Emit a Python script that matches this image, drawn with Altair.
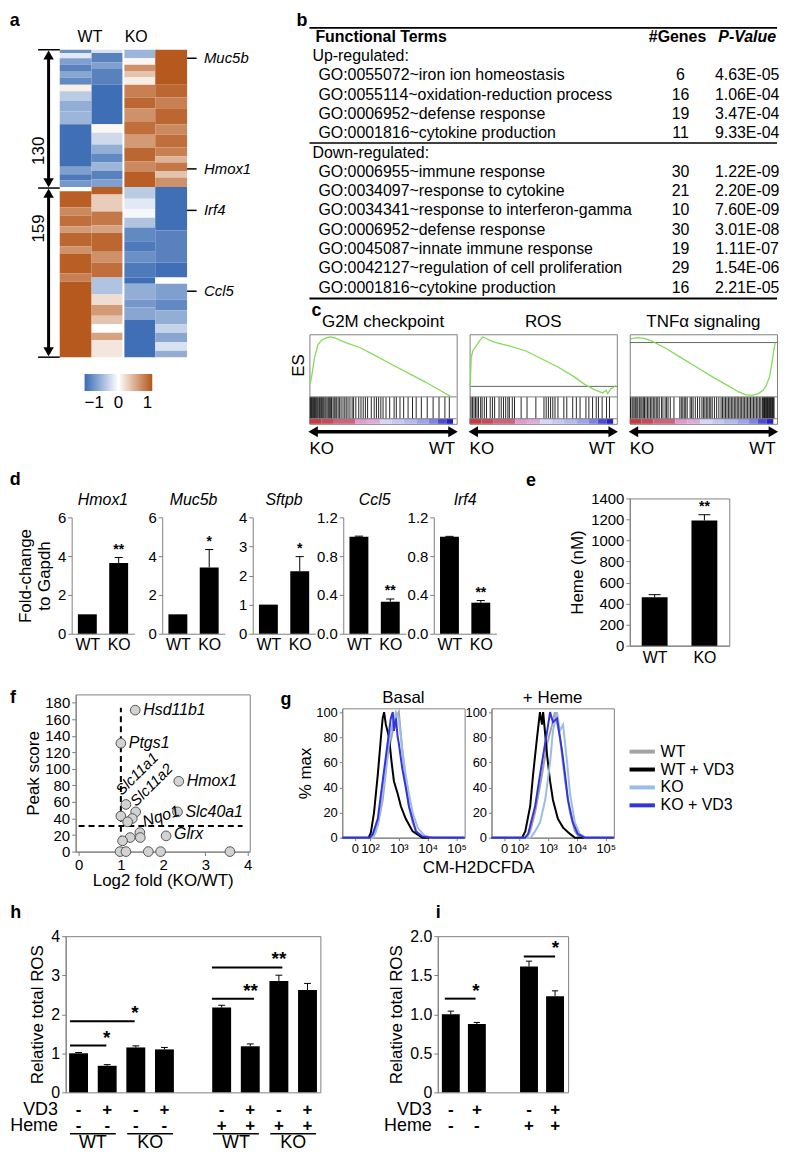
import altair as alt
import pandas as pd

FONT = "Liberation Sans"
GRAY = "#808080"
ONE = pd.DataFrame({"k": [0]})
LETTER_SIZE = 18


def sc(lo, hi, reverse=False):
    return alt.Scale(domain=[lo, hi], nice=False, zero=False, reverse=reverse, padding=0)


def txt(text, x, y, xs, ys, xa=None, ya=None, **kw):
    return alt.Chart(ONE).mark_text(text=text, **kw).encode(
        x=alt.X(datum=x, scale=xs, axis=xa), y=alt.Y(datum=y, scale=ys, axis=ya))


def seg(x1, x2, y1, y2, xs, ys, xa=None, ya=None, **kw):
    return alt.Chart(ONE).mark_rule(**kw).encode(
        x=alt.X(datum=x1, scale=xs, axis=xa), x2=alt.X2(datum=x2),
        y=alt.Y(datum=y1, scale=ys, axis=ya), y2=alt.Y2(datum=y2))


def pt(x, y, xs, ys, **kw):
    return alt.Chart(ONE).mark_point(filled=True, opacity=1, **kw).encode(
        x=alt.X(datum=x, scale=xs, axis=None), y=alt.Y(datum=y, scale=ys, axis=None))


def letter(t, dx, offset):
    return alt.TitleParams(t, anchor="start", frame="bounds", dx=dx, offset=offset,
                           fontSize=LETTER_SIZE, fontWeight="bold")

# ======================= a : heatmap =======================
HM_GROUP_SIZES = [130, 159]
HM_WT1 = [(0, 3, -0.75), (3, 8, -0.15), (8, 14, -0.65), (14, 20, -0.85), (20, 26, -0.6), (26, 33, -0.8),
          (33, 39, 0.1), (39, 48, -0.35), (48, 58, -0.55), (58, 70, -0.5), (70, 110, -0.97), (110, 117, -0.65),
          (117, 123, -0.9), (123, 129, -0.7), (129, 133, 0.0), (133, 148, 0.95), (148, 156, 0.7),
          (156, 166, 0.85), (166, 172, 0.6), (172, 185, 0.9), (185, 192, 0.65), (192, 210, 0.95),
          (210, 218, 0.75), (218, 289, 0.98)]
HM_WT2 = [(0, 3, -0.2), (3, 12, -0.85), (12, 18, -0.65), (18, 33, -0.85), (33, 70, -0.98), (70, 78, 0.05),
          (78, 89, -0.25), (89, 98, -0.55), (98, 106, -0.8), (106, 114, -0.5), (114, 122, -0.85),
          (122, 129, -0.65), (129, 136, 0.95), (136, 152, 0.3), (152, 165, 0.8), (165, 172, 0.55),
          (172, 190, 0.9), (190, 200, 0.65), (200, 214, 0.85), (214, 230, -0.4), (230, 240, 0.2),
          (240, 250, 0.6), (250, 258, 0.35), (258, 266, 0.0), (266, 273, 0.55), (273, 289, 0.15)]
HM_KO1 = [(0, 8, -0.5), (8, 14, 0.05), (14, 20, 0.65), (20, 26, 0.35), (26, 33, 0.1), (33, 45, 0.75),
          (45, 55, 0.9), (55, 68, 0.65), (68, 80, 0.85), (80, 92, 0.6), (92, 105, 0.9), (105, 115, 0.7),
          (115, 129, 0.95), (129, 140, -0.35), (140, 150, -0.15), (150, 158, -0.05), (158, 167, -0.4),
          (167, 180, -0.8), (180, 190, -0.9), (190, 200, -0.75), (200, 214, -0.9), (214, 220, -0.98),
          (220, 235, -0.55), (235, 242, -0.7), (242, 254, -0.6), (254, 289, -0.97)]
HM_KO2 = [(0, 33, 0.98), (33, 45, 0.9), (45, 55, 0.75), (55, 70, 0.9), (70, 80, 0.7), (80, 92, 0.85),
          (92, 100, 0.75), (100, 106, 0.45), (106, 114, 0.8), (114, 120, 0.35), (120, 129, 0.65),
          (129, 170, -0.97), (170, 200, -0.85), (200, 214, -0.97), (214, 220, 0.0), (220, 235, -0.65),
          (235, 245, -0.8), (245, 258, -0.55), (258, 266, -0.3), (266, 275, -0.6), (275, 283, -0.2),
          (283, 289, -0.55)]
HM_GENES = ["Muc5b", "Hmox1", "Irf4", "Ccl5"]
HM_GENE_ROWS = [8, 112, 151, 227]
HM_COLORS = ["#3a6bb3", "#ffffff", "#b5561a"]

hm_rows = []
for ci, segs in enumerate([HM_WT1, HM_WT2, HM_KO1, HM_KO2]):
    for r0, r1, v in segs:
        hm_rows.append({"c0": ci, "c1": ci + 1, "r0": r0, "r1": r1, "v": v})
hm_df = pd.DataFrame(hm_rows)
n_rows = sum(HM_GROUP_SIZES)
hx = sc(0, 4)
hy = sc(0, n_rows, True)
heat_cs = alt.Scale(domain=[-1, 0, 1], range=HM_COLORS, interpolate="rgb")
heat = alt.Chart(hm_df).mark_rect().encode(
    x=alt.X("c0:Q", scale=hx, axis=None), x2="c1:Q",
    y=alt.Y("r0:Q", scale=hy, axis=None), y2="r1:Q",
    color=alt.Color("v:Q", scale=heat_cs, title=None,
                    legend=alt.Legend(orient="none", legendX=25, legendY=326, direction="horizontal",
                                      type="gradient", gradientLength=68, gradientThickness=17,
                                      values=[-1, 0, 1], format="d", labelFontSize=17, labelOffset=4,
                                      gradientStrokeWidth=0)))
gdf = pd.DataFrame({"gene": HM_GENES, "row": HM_GENE_ROWS})
gtick = alt.Chart(gdf).mark_rule(color="black", strokeWidth=1.5).encode(
    x=alt.X(datum=4.0, scale=hx, axis=None), x2=alt.X2(datum=4.3), y=alt.Y("row:Q", scale=hy, axis=None))
glab = alt.Chart(gdf).mark_text(align="left", baseline="middle", fontStyle="italic", fontSize=15).encode(
    x=alt.X(datum=4.53, scale=hx, axis=None), y=alt.Y("row:Q", scale=hy, axis=None), text="gene:N")
bnd = [0, HM_GROUP_SIZES[0], n_rows]
brk = alt.Chart(pd.DataFrame({"b": bnd})).mark_rule(color="black", strokeWidth=1.5).encode(
    x=alt.X(datum=-0.68, scale=hx, axis=None), x2=alt.X2(datum=0), y=alt.Y("b:Q", scale=hy, axis=None))
a_layers = [heat, seg(2, 2, 0, n_rows, hx, hy, color="white", strokeWidth=2), gtick, glab, brk]
for lo, hi in [(bnd[0], bnd[1]), (bnd[1], bnd[2])]:
    a_layers.append(seg(-0.35, -0.35, lo + 3, hi - 3, hx, hy, color="black", strokeWidth=3))
    a_layers.append(pt(-0.35, lo + 5, hx, hy, shape="triangle-up", size=110, color="black"))
    a_layers.append(pt(-0.35, hi - 5, hx, hy, shape="triangle-down", size=110, color="black"))
a_layers.append(txt(str(HM_GROUP_SIZES[0]), -0.66, 95, hx, hy, angle=270, fontSize=17))
a_layers.append(txt(str(HM_GROUP_SIZES[1]), -0.66, 168, hx, hy, angle=270, fontSize=17))
a_layers.append(txt("WT", 0.95, -12, hx, hy, fontSize=16))
a_layers.append(txt("KO", 2.4, -12, hx, hy, fontSize=16))
A = alt.layer(*a_layers).properties(width=128, height=309, title=letter("a", -20, -1))

# ======================= b : table =======================
UP_TERMS = ["GO:0055072~iron ion homeostasis", "GO:0055114~oxidation-reduction process",
            "GO:0006952~defense response", "GO:0001816~cytokine production"]
UP_GENES = [6, 16, 19, 11]
UP_P = ["4.63E-05", "1.06E-04", "3.47E-04", "9.33E-04"]
DOWN_TERMS = ["GO:0006955~immune response", "GO:0034097~response to cytokine",
              "GO:0034341~response to interferon-gamma", "GO:0006952~defense response",
              "GO:0045087~innate immune response", "GO:0042127~regulation of cell proliferation",
              "GO:0001816~cytokine production"]
DOWN_GENES = [30, 21, 10, 30, 19, 29, 16]
DOWN_P = ["1.22E-09", "2.20E-09", "7.60E-09", "3.01E-08", "1.11E-07", "1.54E-06", "2.21E-05"]

n_up = len(UP_TERMS)
tab_rows = list(range(2, 2 + n_up)) + list(range(3 + n_up, 3 + n_up + len(DOWN_TERMS)))
tab_df = pd.DataFrame({"row": tab_rows, "term": UP_TERMS + DOWN_TERMS,
                       "genes": [str(g) for g in UP_GENES + DOWN_GENES], "p": UP_P + DOWN_P})
last = tab_rows[-1]
bx = sc(0, 470)
by = sc(-0.46, last + 0.56, True)
tb = alt.Chart(tab_df)
B = alt.layer(
    seg(0, 470, -0.46, -0.46, bx, by, color="black", strokeWidth=2),
    seg(0, 470, 1.5 + n_up, 1.5 + n_up, bx, by, color="black", strokeWidth=1.5),
    seg(0, 470, last + 0.56, last + 0.56, bx, by, color="black", strokeWidth=2),
    txt("Functional Terms", 6, 0, bx, by, align="left", fontSize=16, fontWeight="bold"),
    txt("#Genes", 370, 0, bx, by, fontSize=16, fontWeight="bold"),
    txt("P-Value", 440, 0, bx, by, fontSize=16, fontWeight="bold", fontStyle="italic"),
    txt("Up-regulated:", 3, 1, bx, by, align="left", fontSize=16),
    txt("Down-regulated:", 3, 2 + n_up, bx, by, align="left", fontSize=16),
    tb.mark_text(align="left", fontSize=16).encode(
        x=alt.X(datum=9, scale=bx, axis=None), y=alt.Y("row:Q", scale=by, axis=None), text="term:N"),
    tb.mark_text(fontSize=16).encode(
        x=alt.X(datum=373, scale=bx, axis=None), y=alt.Y("row:Q", scale=by, axis=None), text="genes:N"),
    tb.mark_text(fontSize=16).encode(
        x=alt.X(datum=440, scale=bx, axis=None), y=alt.Y("row:Q", scale=by, axis=None), text="p:N"),
).properties(width=470, height=272, title=letter("b", -12, -3))

# ======================= c : GSEA =======================
STRIP_EDGES = [0, 0.08, 0.16, 0.31, 0.39, 0.48, 0.56, 0.64, 0.73, 0.81, 0.87, 0.93, 0.975]
STRIP_VALS = [1.0, 0.9, 0.75, 0.4, 0.3, 0.0, -0.1, -0.2, -0.35, -0.55, -0.8, -1.0]
strip_cs = alt.Scale(domain=[-1, -0.5, 0, 0.35, 1],
                     range=["#2222c8", "#8a8ae8", "#d6d6f6", "#dfa4d4", "#c23a44"], interpolate="rgb")

G2M_X = [0.005, 0.016, 0.035, 0.059, 0.082, 0.118, 0.141, 0.176, 0.247, 0.341, 0.435, 0.553, 0.671, 0.788,
         0.906, 0.953, 0.969]
G2M_Y = [0.2, 0.34, 0.63, 0.84, 0.905, 0.947, 0.958, 0.937, 0.868, 0.789, 0.674, 0.526, 0.379, 0.237,
         0.079, 0.016, 0.0]
G2M_HITS = [0.005, 0.01, 0.015, 0.02, 0.028, 0.035, 0.04, 0.046, 0.052, 0.058, 0.065, 0.07, 0.077, 0.083,
            0.09, 0.097, 0.105, 0.112, 0.12, 0.128, 0.135, 0.142, 0.15, 0.16, 0.168, 0.175, 0.185, 0.195,
            0.205, 0.215, 0.228, 0.24, 0.25, 0.262, 0.275, 0.29, 0.3, 0.315, 0.335, 0.35, 0.365, 0.38,
            0.395, 0.42, 0.44, 0.455, 0.47, 0.485, 0.5, 0.52, 0.545, 0.575, 0.59, 0.615, 0.64, 0.67, 0.7,
            0.725, 0.76, 0.8, 0.84, 0.88, 0.92, 0.95]
ROS_X = [0.004, 0.011, 0.022, 0.045, 0.067, 0.089, 0.112, 0.134, 0.179, 0.268, 0.379, 0.491, 0.603, 0.714,
         0.781, 0.848, 0.904, 0.926, 0.938, 0.96, 0.982, 0.993]
ROS_Y = [0.158, 0.632, 0.737, 0.816, 0.895, 0.958, 0.937, 0.905, 0.868, 0.816, 0.737, 0.605, 0.474, 0.316,
         0.2, 0.116, 0.063, 0.105, 0.053, 0.132, 0.158, 0.184]
ROS_HITS = [0.01, 0.02, 0.03, 0.04, 0.05, 0.06, 0.075, 0.085, 0.1, 0.115, 0.14, 0.155, 0.17, 0.2, 0.215,
            0.23, 0.245, 0.26, 0.27, 0.29, 0.305, 0.35, 0.39, 0.45, 0.505, 0.52, 0.535, 0.55, 0.565, 0.58,
            0.6, 0.64, 0.66, 0.7, 0.725, 0.75, 0.79, 0.81, 0.835, 0.86, 0.875, 0.9, 0.93, 0.95]
TNF_X = [0.004, 0.026, 0.059, 0.103, 0.147, 0.235, 0.345, 0.455, 0.565, 0.675, 0.741, 0.785, 0.829, 0.873,
         0.906, 0.927, 0.949, 0.965, 0.978, 0.987]
TNF_Y = [0.921, 0.937, 0.947, 0.932, 0.895, 0.789, 0.632, 0.474, 0.316, 0.168, 0.079, 0.037, 0.026, 0.053,
         0.105, 0.184, 0.316, 0.526, 0.737, 0.868]
TNF_HITS = [0.005, 0.015, 0.022, 0.03, 0.04, 0.048, 0.055, 0.065, 0.075, 0.083, 0.092, 0.1, 0.11, 0.12,
            0.13, 0.14, 0.15, 0.16, 0.17, 0.18, 0.19, 0.2, 0.215, 0.225, 0.24, 0.25, 0.26, 0.275, 0.3,
            0.34, 0.35, 0.36, 0.37, 0.38, 0.39, 0.41, 0.42, 0.43, 0.445, 0.46, 0.475, 0.49, 0.5, 0.51,
            0.52, 0.53, 0.54, 0.55, 0.56, 0.575, 0.59, 0.605, 0.62, 0.63, 0.64, 0.65, 0.66, 0.67, 0.68,
            0.69, 0.7, 0.71, 0.72, 0.73, 0.74, 0.75, 0.76, 0.77, 0.78, 0.79, 0.8, 0.81, 0.82, 0.83, 0.84,
            0.85, 0.86, 0.87, 0.88, 0.89, 0.9, 0.905, 0.91, 0.915, 0.92, 0.925, 0.93, 0.935, 0.94, 0.945,
            0.95, 0.955, 0.96, 0.965, 0.97, 0.975, 0.98]


def c_panel(title, es_x, es_y, hits, zero=None, es_label=False):
    xs = sc(0, 1)
    ys = sc(-0.43, 1.0)
    sdf = pd.DataFrame({"s0": STRIP_EDGES[:-1], "s1": STRIP_EDGES[1:], "m": STRIP_VALS})
    layers = [
        alt.Chart(sdf).mark_rect().encode(
            x=alt.X("s0:Q", scale=xs, axis=None), x2="s1:Q",
            y=alt.Y(datum=-0.43, scale=ys, axis=None), y2=alt.Y2(datum=-0.349),
            color=alt.Color("m:Q", scale=strip_cs, legend=None)),
        alt.Chart(pd.DataFrame({"h": hits})).mark_rule(color="black", strokeWidth=1, opacity=0.85).encode(
            x=alt.X("h:Q", scale=xs, axis=None),
            y=alt.Y(datum=-0.349, scale=ys, axis=None), y2=alt.Y2(datum=0)),
        seg(0, 1, 0, 0, xs, ys, color=GRAY, strokeWidth=1),
        seg(0, 1, -0.349, -0.349, xs, ys, color=GRAY, strokeWidth=1),
    ]
    if zero is not None:
        layers.append(seg(0, 1, zero, zero, xs, ys, color="#666666", strokeWidth=1))
    layers += [
        alt.Chart(pd.DataFrame({"x": es_x, "y": es_y})).mark_line(color="#84dc58", strokeWidth=1.3).encode(
            x=alt.X("x:Q", scale=xs, axis=None), y=alt.Y("y:Q", scale=ys, axis=None)),
        seg(0.04, 0.96, -0.556, -0.556, xs, ys, color="black", strokeWidth=3.5),
        pt(0.025, -0.556, xs, ys, shape="triangle-left", size=120, color="black"),
        pt(0.975, -0.556, xs, ys, shape="triangle-right", size=120, color="black"),
        txt("KO", 0.0, -0.83, xs, ys, align="left", fontSize=17),
        txt("WT", 0.99, -0.83, xs, ys, align="right", fontSize=17),
    ]
    if es_label:
        layers.append(txt("ES", -0.07, 0.5, xs, ys, angle=270, fontSize=17))
    return alt.layer(*layers).properties(
        width=148, height=90, view=alt.ViewBackground(stroke=GRAY, strokeWidth=1),
        title=alt.TitleParams(title, fontSize=17, fontWeight="normal", offset=3))


Crow = alt.hconcat(
    c_panel("G2M checkpoint", G2M_X, G2M_Y, G2M_HITS, es_label=True),
    c_panel("ROS", ROS_X, ROS_Y, ROS_HITS, zero=0.168),
    c_panel("TNF\u03b1 signaling", TNF_X, TNF_Y, TNF_HITS, zero=0.868),
    spacing=13, bounds="flush", title=letter("c", 22, -7)).resolve_scale(color="independent")

# ======================= bar helpers =======================
WTKO = "datum.value == 0 ? 'WT' : 'KO'"


def bar_layers(pos, vals, errs, xs, ys, xaxis, yaxis, bar_w, cap):
    df = pd.DataFrame({"pos": pos, "val": vals, "err": errs})
    base = alt.Chart(df)
    eb = base.transform_filter("datum.err > 0").transform_calculate(top="datum.val + datum.err")
    return [
        base.mark_bar(width=bar_w, color="black").encode(
            x=alt.X("pos:Q", scale=xs, axis=xaxis), y=alt.Y("val:Q", scale=ys, axis=yaxis)),
        eb.mark_rule(color="black", strokeWidth=1).encode(
            x=alt.X("pos:Q", scale=xs, axis=xaxis), y=alt.Y("val:Q", scale=ys, axis=yaxis), y2="top:Q"),
        eb.transform_calculate(lo=f"datum.pos - {cap}", hi=f"datum.pos + {cap}").mark_rule(
            color="black", strokeWidth=1).encode(
            x=alt.X("lo:Q", scale=xs, axis=xaxis), x2="hi:Q", y=alt.Y("top:Q", scale=ys, axis=yaxis)),
    ]


def star_layer(pos, tops, stars, xs, ys, xaxis, yaxis, size=14):
    return alt.Chart(pd.DataFrame({"pos": pos, "top": tops, "s": stars})).mark_text(
        baseline="bottom", dy=-1, fontSize=size, fontWeight="bold").encode(
        x=alt.X("pos:Q", scale=xs, axis=xaxis), y=alt.Y("top:Q", scale=ys, axis=yaxis), text="s:N")

# ======================= d =======================
D_GENES = ["Hmox1", "Muc5b", "Sftpb", "Ccl5", "Irf4"]
D_WT = [1.0, 1.0, 1.0, 1.0, 1.0]
D_WT_ERR = [0.0, 0.0, 0.0, 0.006, 0.004]
D_KO = [3.65, 3.42, 2.15, 0.33, 0.32]
D_KO_ERR = [0.28, 0.92, 0.5, 0.028, 0.022]
D_STARS = ["**", "*", "*", "**", "**"]
D_YMAX = [6, 6, 4, 1.2, 1.2]
D_TICKS = [[0, 2, 4, 6], [0, 2, 4, 6], [0, 1, 2, 3, 4], [0, 0.4, 0.8, 1.2], [0, 0.4, 0.8, 1.2]]

d_charts = []
for i, g in enumerate(D_GENES):
    xs = sc(-0.5, 1.5)
    ys = sc(0, D_YMAX[i])
    xaxis = alt.Axis(values=[0, 1], labelExpr=WTKO, ticks=False, grid=False, labelFontSize=16,
                     labelFlush=False, labelPadding=3, title=None, domainColor=GRAY)
    yargs = dict(values=D_TICKS[i], grid=False, labelFontSize=15, tickSize=4, labelPadding=2,
                 domainColor=GRAY, tickColor=GRAY, labelOverlap=False, labelFlush=False)
    if i == 0:
        yaxis = alt.Axis(title=["Fold-change", "to Gapdh"], titleFontSize=17, titlePadding=4, **yargs)
    else:
        yaxis = alt.Axis(title=None, **yargs)
    lay = bar_layers([0, 1], [D_WT[i], D_KO[i]], [D_WT_ERR[i], D_KO_ERR[i]], xs, ys, xaxis, yaxis, 19, 0.13)
    lay.append(star_layer([1], [D_KO[i] + D_KO_ERR[i]], [D_STARS[i]], xs, ys, xaxis, yaxis))
    d_charts.append(alt.layer(*lay).properties(
        width=63, height=117,
        title=alt.TitleParams(g, fontStyle="italic", fontWeight="normal", fontSize=16, offset=2)))
Dgroup = alt.hconcat(*d_charts, spacing=28, bounds="flush", title=letter("d", -7, 4))

# ======================= e =======================
E_VALS = [460, 1190]
E_ERRS = [25, 55]
exs = sc(-0.5, 1.5)
eys = sc(0, 1400)
exa = alt.Axis(values=[0, 1], labelExpr=WTKO, ticks=False, grid=False, labelFontSize=16,
               labelFlush=False, labelPadding=4, title=None, domainColor=GRAY)
eya = alt.Axis(values=[0, 200, 400, 600, 800, 1000, 1200, 1400], format="d", grid=False,
               labelFontSize=15, tickSize=4, labelFlush=False, labelOverlap=False,
               title="Heme (nM)", titleFontSize=17, domainColor=GRAY, tickColor=GRAY)
e_lay = bar_layers([0, 1], E_VALS, E_ERRS, exs, eys, exa, eya, 26, 0.12)
e_lay.append(star_layer([1], [E_VALS[1] + E_ERRS[1]], ["**"], exs, eys, exa, eya))
E = alt.layer(*e_lay).properties(width=100, height=148, view=alt.ViewBackground(stroke=GRAY, strokeWidth=1),
                                 title=letter("e", -43, 2))

# ======================= f =======================
F_X = [1.34, 1.00, 2.37, 2.34, 2.07, 1.12, 1.35, 1.27, 1.00, 1.16, 1.45, 1.46, 1.22, 1.04, 0.98, 1.12,
       1.65, 1.94, 3.58]
F_Y = [171, 131, 85, 48, 19, 57, 48, 40, 43, 36, 23, 17, 17, 13, 0, 0, 0, 0, 0]
F_GENE = ["Hsd11b1", "Ptgs1", "Hmox1", "Slc40a1", "Glrx", "Slc11a1", "Slc11a2", "Nqo1", "", "", "", "", "",
          "", "", "", "", "", ""]
F_FOLD_CUT = 1
F_SCORE_CUT = 31
fdf = pd.DataFrame({"x": F_X, "y": F_Y, "gene": F_GENE})
fxs = sc(-0.07, 4.05)
fys = sc(0, 190)
fxa = alt.Axis(values=[0, 1, 2, 3, 4], grid=False, labelFontSize=15, labelFlush=False, tickSize=4,
               title="Log2 fold (KO/WT)", titleFontSize=17, titlePadding=0, domainColor=GRAY, tickColor=GRAY)
fya = alt.Axis(values=list(range(0, 181, 20)), grid=False, labelFontSize=15, labelOverlap=False,
               labelFlush=False, tickSize=4, title="Peak score", titleFontSize=17, titlePadding=2,
               domainColor=GRAY, tickColor=GRAY)
fb = alt.Chart(fdf)
fxe = alt.X("x:Q", scale=fxs, axis=fxa)
fye = alt.Y("y:Q", scale=fys, axis=fya)


def f_lab(genes, size=16, **kw):
    return fb.transform_filter(alt.FieldOneOfPredicate(field="gene", oneOf=genes)).mark_text(
        fontStyle="italic", fontSize=size, **kw).encode(x=fxe, y=fye, text="gene:N")


F = alt.layer(
    seg(F_FOLD_CUT, F_FOLD_CUT, 12, 174, fxs, fys, fxa, fya, color="black", strokeWidth=2, strokeDash=[6, 4]),
    seg(0, 3.88, F_SCORE_CUT, F_SCORE_CUT, fxs, fys, fxa, fya, color="black", strokeWidth=2, strokeDash=[6, 4]),
    fb.mark_circle(size=95, color="#d2d2d2", stroke="#555555", strokeWidth=1, opacity=1).encode(x=fxe, y=fye),
    f_lab(["Hsd11b1", "Ptgs1", "Hmox1", "Slc40a1"], align="left", dx=8),
    f_lab(["Glrx"], align="left", dx=8, dy=-2),
    f_lab(["Slc11a1"], size=15, align="left", baseline="bottom", angle=315, dx=3, dy=-6),
    f_lab(["Slc11a2"], size=15, align="left", baseline="bottom", angle=315, dx=4, dy=0),
    f_lab(["Nqo1"], align="left", baseline="middle", angle=342, dx=9, dy=7),
).properties(width=175, height=158, view=alt.ViewBackground(stroke=GRAY, strokeWidth=1),
             title=letter("f", -15, -13))

# ======================= g =======================
G_SERIES = ["WT", "WT + VD3", "KO", "KO + VD3"]
G_COLORS = ["#a3a3a3", "#000000", "#9cbbe8", "#3434dc"]
G_BASAL = {
    "WT": [(1.04, 0), (2.1, 0), (2.27, 10), (2.44, 30), (2.61, 65), (2.79, 85), (2.9, 95), (3.0, 100),
           (3.12, 70), (3.24, 45), (3.35, 25), (3.48, 12), (3.65, 3), (3.82, 0), (5.28, 0)],
    "WT + VD3": [(1.04, 0), (1.95, 0), (2.03, 4), (2.14, 20), (2.27, 50), (2.38, 80), (2.44, 95), (2.49, 100),
                 (2.55, 90), (2.66, 80), (2.75, 60), (2.83, 45), (2.96, 35), (3.07, 25), (3.24, 15), (3.48, 5),
                 (3.82, 0), (5.28, 0)],
    "KO": [(1.04, 0), (2.1, 0), (2.21, 5), (2.38, 25), (2.55, 55), (2.72, 85), (2.9, 100), (3.0, 95),
           (3.12, 70), (3.24, 50), (3.35, 35), (3.48, 20), (3.65, 8), (3.87, 2), (4.1, 0), (5.28, 0)],
    "KO + VD3": [(1.04, 0), (2.0, 0), (2.1, 3), (2.27, 15), (2.44, 45), (2.61, 75), (2.72, 95), (2.79, 100),
                 (2.83, 85), (2.9, 95), (2.96, 80), (3.0, 75), (3.12, 55), (3.24, 40), (3.35, 25), (3.47, 15),
                 (3.59, 5), (3.82, 1), (4.17, 0), (5.28, 0)],
}
G_HEME = {
    "WT": [(1.04, 0), (2.25, 0), (2.38, 5), (2.55, 20), (2.79, 50), (2.97, 75), (3.14, 90), (3.24, 100),
           (3.41, 80), (3.59, 45), (3.76, 20), (3.93, 5), (4.1, 0), (5.28, 0)],
    "WT + VD3": [(1.04, 0), (2.1, 0), (2.21, 5), (2.38, 25), (2.48, 50), (2.62, 80), (2.72, 100), (2.79, 90),
                 (2.83, 100), (2.97, 65), (3.07, 45), (3.17, 30), (3.34, 15), (3.52, 8), (3.76, 3),
                 (3.93, 0), (5.28, 0)],
    "KO": [(1.04, 0), (2.4, 0), (2.55, 5), (2.72, 12), (2.9, 30), (3.07, 60), (3.17, 85), (3.31, 100),
           (3.41, 85), (3.52, 90), (3.66, 60), (3.76, 35), (3.93, 12), (4.1, 3), (4.28, 0), (5.28, 0)],
    "KO + VD3": [(1.04, 0), (2.2, 0), (2.31, 3), (2.55, 25), (2.79, 60), (2.97, 85), (3.07, 100), (3.17, 92),
                 (3.31, 95), (3.48, 70), (3.59, 50), (3.69, 30), (3.86, 12), (4.03, 3), (4.28, 0), (5.28, 0)],
}
G_TICKS = [1.48, 2, 3, 4, 5]
G_TICK_EXPR = ("datum.value < 1.9 ? '0' : datum.value < 2.5 ? '10\u00b2' : datum.value < 3.5 ? '10\u00b3' "
               ": datum.value < 4.5 ? '10\u2074' : '10\u2075'")


def g_panel(name, series, first):
    rows = []
    for s in G_SERIES:
        for i, (lx, y) in enumerate(series[s]):
            rows.append({"s": s, "lx": lx, "y": y, "o": i})
    gdf_ = pd.DataFrame(rows)
    xargs = dict(values=G_TICKS, labelExpr=G_TICK_EXPR, grid=False, labelFontSize=13, labelOverlap=False,
                 labelFlush=False, tickSize=3, domainColor=GRAY, tickColor=GRAY)
    yargs = dict(values=[0, 20, 40, 60, 80, 100], grid=False, labelFontSize=13, tickSize=3,
                 labelFlush=False, domainColor=GRAY, tickColor=GRAY)
    if first:
        xaxis = alt.Axis(title=None, **xargs)
        yaxis = alt.Axis(title="% max", titleFontSize=17, titlePadding=1, **yargs)
        leg = None
    else:
        xaxis = alt.Axis(title="CM-H2DCFDA", titleX=-13.5, titleAlign="center", titleFontSize=17,
                         titlePadding=4, **xargs)
        yaxis = alt.Axis(title=None, **yargs)
        leg = alt.Legend(orient="none", legendX=142, legendY=34, symbolType="M-1.7,0H1.7", symbolStrokeWidth=4,
                         symbolSize=225, labelFontSize=16, rowPadding=-3, title=None, labelOffset=9)
    return alt.Chart(gdf_).mark_line(strokeWidth=2).encode(
        x=alt.X("lx:Q", scale=sc(1.04, 5.28), axis=xaxis),
        y=alt.Y("y:Q", scale=sc(0, 103), axis=yaxis),
        color=alt.Color("s:N", scale=alt.Scale(domain=G_SERIES, range=G_COLORS), legend=leg, sort=G_SERIES),
        order="o:Q",
    ).properties(width=123, height=130, view=alt.ViewBackground(stroke=GRAY, strokeWidth=1),
                 title=alt.TitleParams(name, fontSize=17, fontWeight="normal", offset=-1))


Ggroup = alt.hconcat(g_panel("Basal", G_BASAL, True), g_panel("+ Heme", G_HEME, False),
                     spacing=27, bounds="flush", title=letter("g", -16, -20)).resolve_scale(color="independent")

# ======================= h / i =======================
H_SLOTS = [0, 1, 2, 3, 5, 6, 7, 8]
H_VALS = [1.0, 0.68, 1.15, 1.1, 2.17, 1.18, 2.85, 2.62]
H_ERRS = [0.02, 0.03, 0.04, 0.05, 0.06, 0.06, 0.15, 0.17]
H_VD3 = ["-", "+", "-", "+", "-", "+", "-", "+"]
H_HEME = ["-", "-", "-", "-", "+", "+", "+", "+"]
H_GROUPS = ["WT", "KO", "WT", "KO"]
H_GROUP_POS = [0.5, 2.5, 5.5, 7.5]
H_SIG_X1 = [-0.3, -0.3, 4.66, 4.66]
H_SIG_X2 = [0.97, 1.96, 6.13, 7.12]
H_SIG_Y = [1.2, 1.82, 2.4, 3.2]
H_SIG_TXT = ["*", "*", "**", "**"]

I_SLOTS = [0, 1, 3, 4]
I_VALS = [1.0, 0.875, 1.61, 1.23]
I_ERRS = [0.04, 0.02, 0.07, 0.07]
I_VD3 = ["-", "+", "-", "+"]
I_HEME = ["-", "-", "+", "+"]
I_SIG_X1 = [-0.23, 2.8]
I_SIG_X2 = [0.95, 4.0]
I_SIG_Y = [1.2, 1.74]
I_SIG_TXT = ["*", "*"]


def ros_panel(slots, vals, errs, vd3, heme, sx1, sx2, sy, stxt, xdom, ymax, yticks, ylabel_expr,
              row_y, lab_x, width, bar_w, title, groups=None, gpos=None, gline_y=None, group_y=None):
    xs = sc(xdom[0], xdom[1])
    ys = sc(0, ymax)
    ya = alt.Axis(values=yticks, labelExpr=ylabel_expr, grid=False, labelFontSize=16, tickSize=4,
                  labelFlush=False, labelOverlap=False, title="Relative total ROS", titleFontSize=17,
                  titlePadding=4, domainColor=GRAY, tickColor=GRAY)
    lay = bar_layers(slots, vals, errs, xs, ys, None, ya, bar_w, 0.12)
    sdf = pd.DataFrame({"x1": sx1, "x2": sx2, "y": sy, "t": stxt})
    lay.append(alt.Chart(sdf).mark_rule(color="black", strokeWidth=2).encode(
        x=alt.X("x1:Q", scale=xs, axis=None), x2="x2:Q", y=alt.Y("y:Q", scale=ys, axis=ya)))
    lay.append(alt.Chart(sdf).mark_text(baseline="bottom", align="right", dy=2, dx=4, fontSize=19,
                                        fontWeight="bold").encode(
        x=alt.X("x2:Q", scale=xs, axis=None), y=alt.Y("y:Q", scale=ys, axis=ya), text="t:N"))
    tdf = pd.DataFrame({"slot": slots, "vd3": vd3, "heme": heme})
    for col, yv in [("vd3", row_y[0]), ("heme", row_y[1])]:
        lay.append(alt.Chart(tdf).mark_text(fontSize=17, fontWeight="bold").encode(
            x=alt.X("slot:Q", scale=xs, axis=None), y=alt.Y(datum=yv, scale=ys, axis=ya), text=f"{col}:N"))
    lay.append(txt("VD3", lab_x, row_y[0], xs, ys, None, ya, align="right", fontSize=18))
    lay.append(txt("Heme", lab_x, row_y[1], xs, ys, None, ya, align="right", fontSize=18))
    if groups is not None:
        gdf_ = pd.DataFrame({"g": groups, "c": gpos})
        gb = alt.Chart(gdf_).transform_calculate(a="datum.c - 0.8", b="datum.c + 0.8")
        lay.append(gb.mark_rule(color="black", strokeWidth=1.5).encode(
            x=alt.X("a:Q", scale=xs, axis=None), x2="b:Q", y=alt.Y(datum=gline_y, scale=ys, axis=ya)))
        lay.append(alt.Chart(gdf_).mark_text(fontSize=18).encode(
            x=alt.X("c:Q", scale=xs, axis=None), y=alt.Y(datum=group_y, scale=ys, axis=ya), text="g:N"))
    return alt.layer(*lay).properties(width=width, height=157,
                                      view=alt.ViewBackground(stroke=GRAY, strokeWidth=1), title=title)


H = ros_panel(H_SLOTS, H_VALS, H_ERRS, H_VD3, H_HEME, H_SIG_X1, H_SIG_X2, H_SIG_Y, H_SIG_TXT,
              (-0.45, 8.45), 4, [0, 1, 2, 3, 4], "format(datum.value, 'd')", (-0.46, -0.87), -0.72, 256, 19,
              letter("h", 0, 6), groups=H_GROUPS, gpos=H_GROUP_POS, gline_y=-1.06, group_y=-1.3)
I = ros_panel(I_SLOTS, I_VALS, I_ERRS, I_VD3, I_HEME, I_SIG_X1, I_SIG_X2, I_SIG_Y, I_SIG_TXT,
              (-0.5, 4.5), 2, [0, 0.5, 1, 1.5, 2], "datum.value == 0 ? '0' : format(datum.value, '.1f')",
              (-0.23, -0.435), -0.73, 131, 18, letter("i", 52, 6))

# ======================= layout =======================
# an invisible 1x1 anchor so that the packed cells line up by their outer edges
DUMMY = alt.Chart(ONE).mark_point(size=0, opacity=0).properties(width=1, height=1)


def pack(*charts, columns, spacing):
    return alt.concat(*charts, columns=columns, spacing=spacing, align="none").resolve_scale(
        color="independent")


def vtop(c):
    return pack(DUMMY, c, columns=1, spacing=0)


def hleft(c):
    return pack(DUMMY, c, columns=2, spacing=0)


BC = pack(B, Crow, columns=1, spacing=2)
row1 = pack(vtop(A), vtop(BC), columns=2, spacing=38)
row2 = pack(vtop(Dgroup), vtop(E), columns=2, spacing=29)
row3 = pack(vtop(F), vtop(Ggroup), columns=2, spacing=27)
row4 = pack(vtop(H), vtop(I), columns=2, spacing=62)
top = pack(pack(hleft(row1), hleft(row2), columns=1, spacing=12),
           pack(hleft(row3), hleft(row4), columns=1, spacing=13),
           columns=1, spacing=21)

chart = (top.properties(padding=0)
         .configure(font=FONT)
         .configure_view(strokeWidth=0)
         .configure_axis(labelFont=FONT, titleFont=FONT, titleFontWeight="normal", labelColor="black",
                         titleColor="black", grid=False)
         .configure_title(font=FONT, color="black")
         .configure_legend(labelFont=FONT, labelColor="black"))

chart.save("out.html", embed_options={"renderer": "svg", "actions": False})
